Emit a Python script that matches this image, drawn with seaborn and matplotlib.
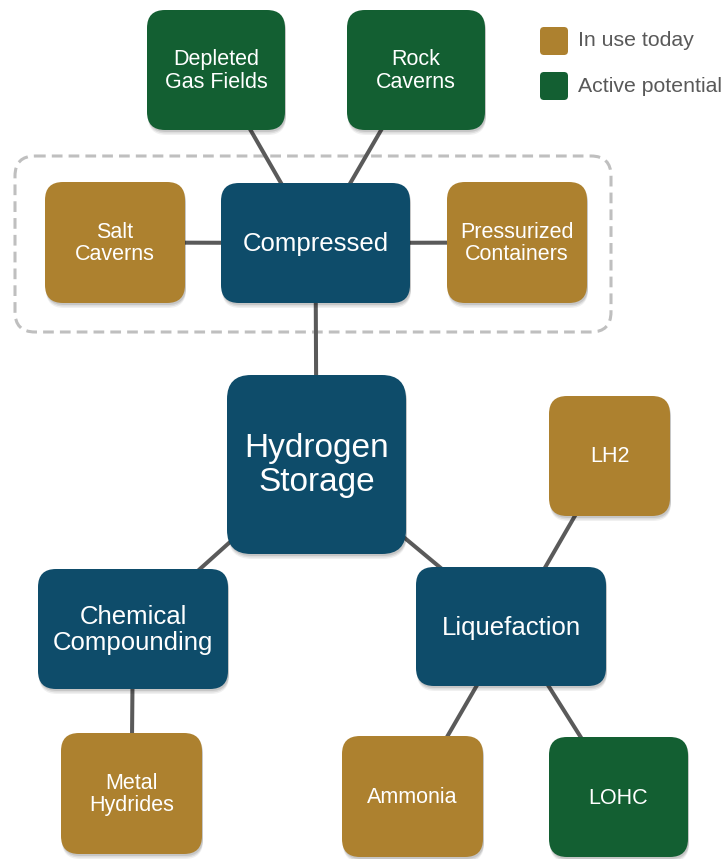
import matplotlib
matplotlib.use("Agg")
import matplotlib.pyplot as plt
from matplotlib.patches import FancyBboxPatch
import seaborn as sns

# node labels and their category
node_ids = ["gas", "rock", "salt", "comp", "press", "h2", "lh2", "chem", "liq", "metal", "ammonia", "lohc"]
node_labels = ["Depleted\nGas Fields", "Rock\nCaverns", "Salt\nCaverns", "Compressed",
               "Pressurized\nContainers", "Hydrogen\nStorage", "LH2", "Chemical\nCompounding",
               "Liquefaction", "Metal\nHydrides", "Ammonia", "LOHC"]
node_kind = ["potential", "potential", "today", "hub", "today", "root", "today", "hub",
             "hub", "today", "today", "potential"]

edges = [("gas", "comp"), ("rock", "comp"), ("salt", "comp"), ("comp", "press"),
         ("comp", "h2"), ("h2", "chem"), ("h2", "liq"), ("lh2", "liq"),
         ("chem", "metal"), ("liq", "ammonia"), ("liq", "lohc")]

legend_labels = ["In use today", "Active potential"]
legend_kinds = ["today", "potential"]

# layout in pixel units: box x0, y0, x1, y1 (y grows downward)
layout = {
    "gas": (147, 10, 285, 130),
    "rock": (347, 10, 485, 130),
    "salt": (45, 182, 185, 303),
    "comp": (221, 183, 410, 303),
    "press": (447, 182, 587, 303),
    "h2": (227, 375, 406, 554),
    "lh2": (549, 396, 670, 516),
    "chem": (38, 569, 228, 689),
    "liq": (416, 567, 606, 686),
    "metal": (61, 733, 202, 854),
    "ammonia": (342, 736, 483, 857),
    "lohc": (549, 737, 688, 857),
}

colors = {"today": "#AD812F", "potential": "#135F32", "hub": "#0E4C6A", "root": "#0E4C6A"}
font_sizes = {"today": 15.5, "potential": 15.5, "hub": 18.5, "root": 24}
radius = {"today": 18, "potential": 18, "hub": 18, "root": 24}

sns.set_theme(style="white")
plt.rcParams["font.family"] = ["Liberation Sans", "DejaVu Sans"]

W, H = 722, 859
fig = plt.figure(figsize=(W / 100, H / 100), dpi=100)
ax = fig.add_axes([0, 0, 1, 1])
ax.set_xlim(0, W)
ax.set_ylim(H, 0)
ax.axis("off")


def center(key):
    x0, y0, x1, y1 = layout[key]
    return (x0 + x1) / 2, (y0 + y1) / 2


# dashed group around the compressed options
grp = FancyBboxPatch((15, 156), 596, 176, boxstyle="round,pad=0,rounding_size=20",
                     fill=False, ec="#BFBFBF", lw=2.2, ls=(0, (3.5, 2)), zorder=1)
ax.add_patch(grp)

for a, b in edges:
    (xa, ya), (xb, yb) = center(a), center(b)
    ax.plot([xa, xb], [ya, yb], color="#5A5A5A", lw=2.9, zorder=2, solid_capstyle="butt")

for key, label, kind in zip(node_ids, node_labels, node_kind):
    x0, y0, x1, y1 = layout[key]
    r = radius[kind]
    for off, al in [(5, 0.06), (3.5, 0.08), (2, 0.1)]:
        sh = FancyBboxPatch((x0 + 1, y0 + off), x1 - x0, y1 - y0,
                            boxstyle=f"round,pad=0,rounding_size={r}",
                            fc="black", ec="none", alpha=al, zorder=3)
        ax.add_patch(sh)
    box = FancyBboxPatch((x0, y0), x1 - x0, y1 - y0,
                         boxstyle=f"round,pad=0,rounding_size={r}",
                         fc=colors[kind], ec="none", zorder=4)
    ax.add_patch(box)
    cx, cy = center(key)
    ax.text(cx, cy + 1, label, color="white", fontsize=font_sizes[kind],
            ha="center", va="center", linespacing=1.1, zorder=5)

# legend
for i, (lab, kind) in enumerate(zip(legend_labels, legend_kinds)):
    y0 = 27 + i * 45
    sq = FancyBboxPatch((540, y0), 28, 28, boxstyle="round,pad=0,rounding_size=4",
                        fc=colors[kind], ec="none", zorder=4)
    ax.add_patch(sq)
    ax.text(578, y0 + 14, lab, color="#595959", fontsize=15.3, ha="left", va="center")

fig.savefig("out.png", dpi=100)
